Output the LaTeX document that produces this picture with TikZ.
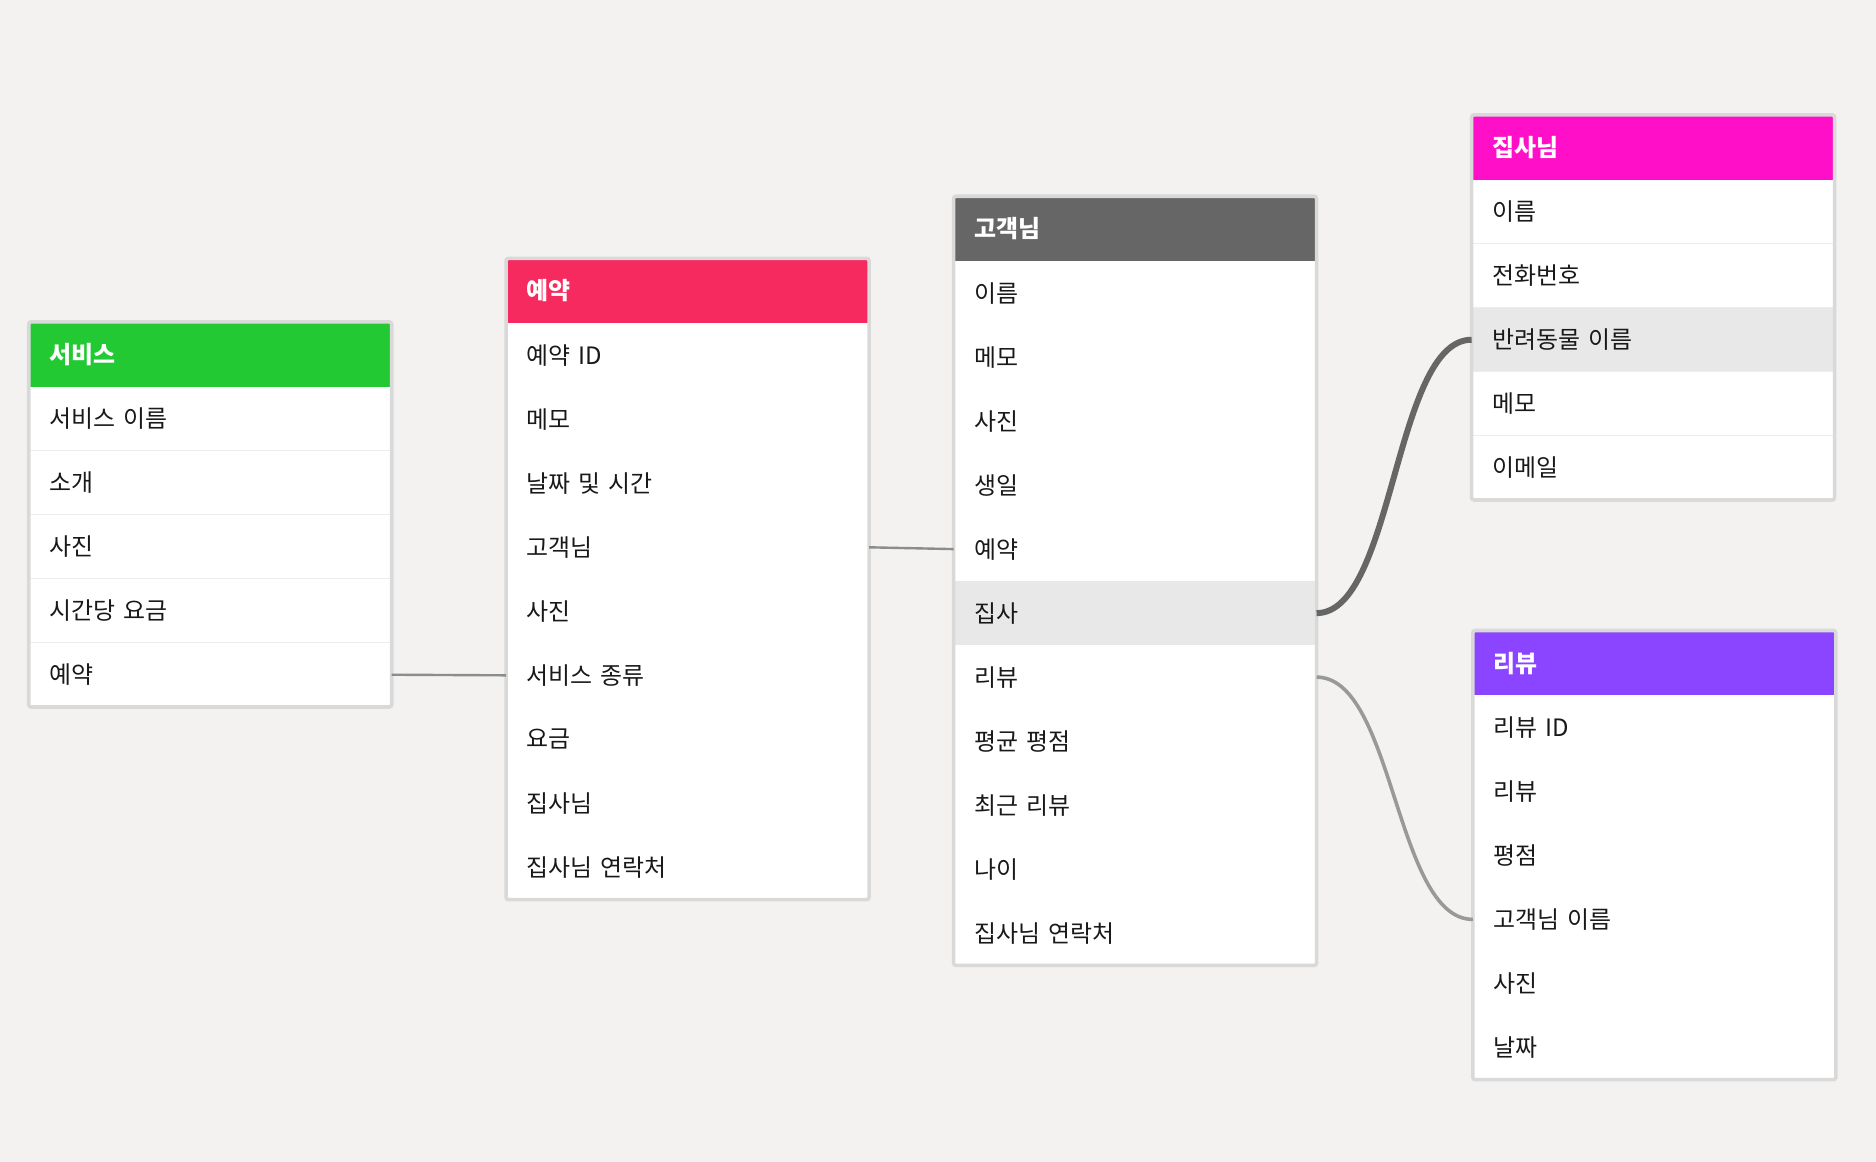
\documentclass[tikz,border=0pt]{standalone}
\usepackage{fontspec}
\setmainfont{Noto Sans CJK KR}
\definecolor{bg}{HTML}{F3F2F0}
\definecolor{bord}{HTML}{D9D9D9}
\definecolor{sep}{HTML}{ECECEC}
\definecolor{hl}{HTML}{E8E8E8}
\definecolor{cgreen}{HTML}{22C933}
\definecolor{cpink}{HTML}{F72A5F}
\definecolor{cgray}{HTML}{666666}
\definecolor{cmag}{HTML}{FF0FC7}
\definecolor{cpurp}{HTML}{8B44FF}
\tikzset{
  row/.style={anchor=north west,fill=white,minimum width=303pt,minimum height=53.5pt,text width=269pt,inner sep=17pt,align=left,font=\fontsize{20}{22}\selectfont,text=black!90},
  head/.style={row,minimum height=54pt,text=white,font=\fontsize{20}{22}\selectfont\bfseries},
  link/.style={draw=black!45,line width=2pt},
  thicklink/.style={draw=cgray,line width=5pt}
}
% name, x, ytop, colour, title, rows, highlight idx, n rows
\newcommand\erdtable[8]{%
  \node[head,fill=#4] (#1-0) at (#2,-#3) {#5};
  \foreach \r [count=\i] in {#6}{%
    \ifnum\i=#7\relax
      \node[row,fill=hl] (#1-\i) at (#2,{-(#3+54+(\i-1)*53.5)}) {\r};
    \else
      \node[row] (#1-\i) at (#2,{-(#3+54+(\i-1)*53.5)}) {\r};
    \fi
    \ifnum\i<#8\relax
      \draw[sep,line width=1pt] (#1-\i.south west)--(#1-\i.south east);
    \fi
  }
  \draw[bord,line width=3pt,rounded corners=2pt] (#1-0.north west) rectangle (#1-#8.south east);
}
\begin{document}
\begin{tikzpicture}[x=1pt,y=1pt]
\fill[bg] (0,0) rectangle (1568,-971);
\useasboundingbox (0,0) rectangle (1568,-971);
\erdtable{serv}{24}{269}{cgreen}{서비스}{서비스 이름,소개,사진,시간당 요금,예약}{0}{5}
\erdtable{res}{423}{216}{cpink}{예약}{예약 ID,메모,날짜 및 시간,고객님,사진,서비스 종류,요금,집사님,집사님 연락처}{0}{9}
\erdtable{cust}{797}{164}{cgray}{고객님}{이름,메모,사진,생일,예약,집사,리뷰,평균 평점,최근 리뷰,나이,집사님 연락처}{6}{11}
\erdtable{butl}{1230}{96}{cmag}{집사님}{이름,전화번호,반려동물 이름,메모,이메일}{3}{5}
\erdtable{rev}{1231}{527}{cpurp}{리뷰}{리뷰 ID,리뷰,평점,고객님 이름,사진,날짜}{0}{6}
\draw[link] (serv-5.east) -- (res-6.west);
\draw[link] (res-4.east) -- (cust-5.west);
\draw[thicklink] (cust-6.east) .. controls +(65,0) and +(-65,0) .. (butl-3.west);
\draw[link,draw=black!40,line width=3pt] (cust-7.east) .. controls +(65,0) and +(-65,0) .. (rev-4.west);
\end{tikzpicture}
\end{document}
